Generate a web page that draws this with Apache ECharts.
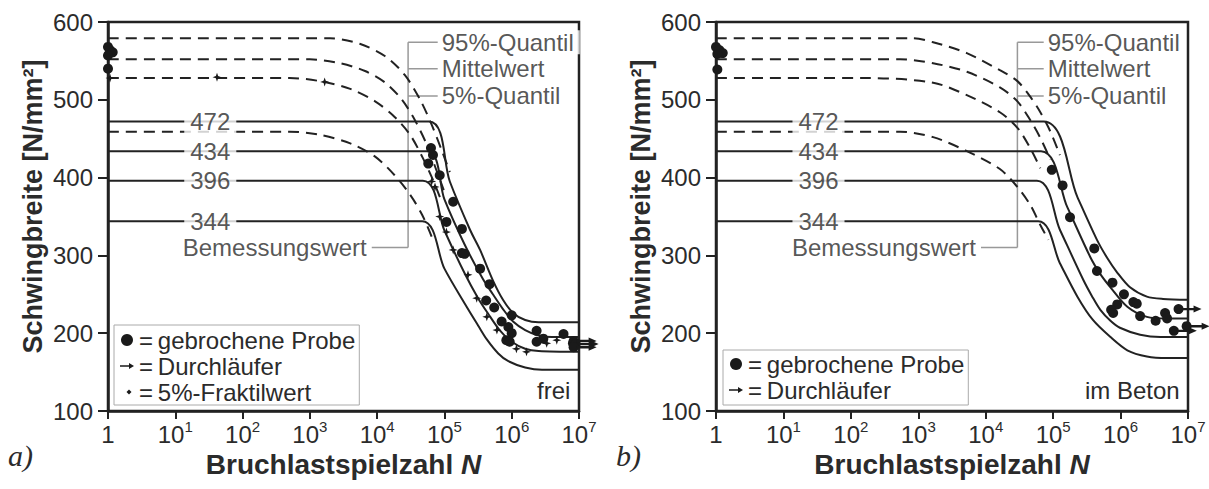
<!DOCTYPE html>
<html>
<head>
<meta charset="utf-8">
<script src="https://cdn.jsdelivr.net/npm/echarts@6/dist/echarts.min.js"></script>
<style>
html, body { margin: 0; background: #fff; }
#chart { width: 1209px; height: 489px; }
</style>
</head>
<body>
<div id="chart"></div>
<script>
// x = log10(N): 0 -> 1, 7 -> 10^7 ; y = Schwingbreite in N/mm²
var xTicks = [0, 1, 2, 3, 4, 5, 6, 7];
var yTicks = [100, 200, 300, 400, 500, 600];
var levels = [472, 434, 396, 344];
var levelX = 1.52;
var quantilNames = ['95%-Quantil', 'Mittelwert', '5%-Quantil'];
var quantilY = [574, 540, 505];
var designY = 310;

// a) frei
var aDash95 = [[0,579],[3.3,579],[3.74,572],[4.12,556],[4.41,532],[4.64,500],[4.81,468],[4.96,435],[5.08,407]];
var aDashMean = [[0,552],[3.0,552],[3.45,547],[3.82,537],[4.12,522],[4.37,500],[4.56,474],[4.74,442],[4.87,412],[4.99,384]];
var aDash5 = [[0,528],[2.7,528],[3.15,524],[3.6,514],[3.97,498],[4.26,478],[4.49,455],[4.68,425],[4.83,397],[4.95,371]];
var aDashDesign = [[0,459],[2.7,459],[3.15,455],[3.6,444],[3.97,427],[4.26,403],[4.49,378],[4.67,352],[4.81,324]];
var aSolid472 = [[0,472],[4.77,472],[5.08,395],[5.38,333],[5.53,307],[5.72,268],[5.87,243],[6.02,226],[6.2,217],[6.4,214],[7,214]];
var aSolid434 = [[0,434],[4.74,434],[5.0,372],[5.3,314],[5.57,270],[5.72,250],[5.87,231],[6.02,215],[6.2,204],[6.4,197],[6.6,195],[7,195]];
var aSolid396 = [[0,396],[4.68,396],[5.0,332],[5.3,277],[5.5,245],[5.65,225],[5.82,204],[6.0,189],[6.2,180],[6.4,177],[7,176]];
var aSolid344 = [[0,344],[4.67,344],[5.0,283],[5.33,234],[5.5,210],[5.63,192],[5.8,174],[5.95,164],[6.2,156],[6.45,153],[7,153]];
var aBroken = [[0,568],[0.03,564],[0.07,561],[0,557],[0,540],
  [4.80,438],[4.83,429],[4.76,418],[4.93,403],[5.13,369],[5.03,343],[5.26,334],[5.26,303],[5.30,302],
  [5.53,283],[5.67,263],[5.62,242],[5.74,233],[5.85,215],[5.95,208],[6.00,200],[5.92,191],[6.00,223],
  [5.97,189],[6.37,203],[6.47,193],[6.37,189],[6.77,199],[6.91,187]];
var aFraktil = [[0.03,528],[1.62,529],[3.22,523],[4.81,395],[4.86,388],[4.93,350],[5.03,330],[5.13,307],
  [5.35,275],[5.48,245],[5.63,221],[5.78,204],[6.07,180],[6.22,176],[6.52,187],[6.67,191]];
var aRunout = [[6.92,190],[6.95,186],[6.92,182]];

// b) im Beton
var bDash95 = [[0,579],[2.92,579],[3.22,574],[3.72,560],[4.21,538],[4.47,524],[4.66,504],[4.81,484],[4.96,459],[5.10,429]];
var bDashMean = [[0,552],[2.73,552],[3.22,547],[3.72,536],[4.21,516],[4.47,498],[4.66,474],[4.81,451],[4.96,423]];
var bDash5 = [[0,528],[2.24,528],[3.22,522],[3.72,506],[4.21,484],[4.47,464],[4.66,438],[4.81,412]];
var bDashDesign = [[0,459],[2.73,459],[3.22,452],[3.72,434],[4.21,411],[4.47,388],[4.66,365],[4.81,339],[4.93,320]];
var bSolid472 = [[0,472],[4.86,472],[5.36,375],[5.65,320],[5.8,297],[5.95,278],[6.14,259],[6.39,247],[6.63,244],[7,243]];
var bSolid434 = [[0,434],[4.82,434],[5.21,362],[5.55,298],[5.7,276],[5.85,259],[6.1,234],[6.39,221],[6.69,219],[7,219]];
var bSolid396 = [[0,396],[4.76,396],[5.10,333],[5.45,268],[5.58,247],[5.70,230],[5.85,216],[5.99,207],[6.29,198],[6.59,195],[7,195]];
var bSolid344 = [[0,344],[4.78,344],[5.10,290],[5.36,247],[5.59,217],[5.85,195],[6.10,178],[6.39,170],[6.69,168],[7,168]];
var bBroken = [[0,568],[0.05,564],[0.1,560],[0.02,559],[0.02,539],
  [4.98,410],[5.14,390],[5.25,349],[5.61,309],[5.65,280],[5.88,265],[6.05,250],[6.19,240],[6.24,238],
  [5.95,237],[5.86,230],[5.89,226],[6.29,222],[6.52,216],[6.66,226],[6.69,219]];
var bRunout = [[6.86,231],[6.98,209],[6.79,203]];

// leader lines: [vertical x, right end x, left end x]
var aLeader = [4.46, 4.90, 3.92];
var bLeader = [4.47, 4.86, 3.93];

var ink = '#222';
var dotInk = '#1a1a1a';
var textInk = '#2b2b2b';
var font = 'Liberation Sans';
var arrowSymbol = 'path://M0,2.3L12,2.3L12,0L20,3.5L12,7L12,4.7L0,4.7Z';
var starSymbol = 'path://M4,0L5,3L8,4L5,5L4,8L3,5L0,4L3,3Z';

// repeat the knee point so the smoothing keeps the corner sharp
function corner(d) {
  return [d[0], d[1]].concat(d.slice(1));
}

function curve(data, idx, dashed) {
  return {
    type: 'line', xAxisIndex: idx, yAxisIndex: idx, silent: true,
    data: dashed ? data : corner(data),
    smooth: 0.3, symbol: 'none', z: 2,
    lineStyle: { color: ink, width: 2, type: dashed ? [11, 7] : 'solid' }
  };
}

function leaderLines(idx, ld) {
  var segs = [[[ld[0], designY], [ld[0], quantilY[0]]], [[ld[2], designY], [ld[0], designY]]];
  quantilY.forEach(function (y) { segs.push([[ld[0], y], [ld[1], y]]); });
  return segs.map(function (s) {
    return {
      type: 'line', xAxisIndex: idx, yAxisIndex: idx, silent: true, data: s,
      symbol: 'none', z: 1, lineStyle: { color: '#999', width: 1.5 }
    };
  });
}

function annotations(idx, ld) {
  var lbl = { show: true, fontSize: 24, fontFamily: font, color: textInk, backgroundColor: '#fff' };
  return [
    {
      type: 'scatter', xAxisIndex: idx, yAxisIndex: idx, silent: true, symbolSize: 0, z: 5,
      data: levels.map(function (v) { return [levelX, v]; }),
      label: Object.assign({}, lbl, { position: 'inside', padding: [1, 6],
        formatter: function (p) { return p.value[1]; } })
    },
    {
      type: 'scatter', xAxisIndex: idx, yAxisIndex: idx, silent: true, symbolSize: 0, z: 5,
      data: quantilNames.map(function (n, i) { return { name: n, value: [ld[1], quantilY[i]] }; }),
      label: Object.assign({}, lbl, { position: 'right', distance: 2, padding: [0, 6, 0, 2],
        formatter: function (p) { return p.name; } })
    },
    {
      type: 'scatter', xAxisIndex: idx, yAxisIndex: idx, silent: true, symbolSize: 0, z: 5,
      data: [{ name: 'Bemessungswert', value: [ld[2], designY] }],
      label: Object.assign({}, lbl, { position: 'left', distance: 3, padding: [0, 2],
        formatter: function (p) { return p.name; } })
    }
  ];
}

function points(idx, broken, runout, fraktil) {
  var s = [
    {
      name: 'gebrochene Probe', type: 'scatter', xAxisIndex: idx, yAxisIndex: idx, silent: true,
      data: broken, symbol: 'circle', symbolSize: 10, z: 4, itemStyle: { color: dotInk, opacity: 1 }
    },
    {
      // run-out specimen: the dot ...
      name: 'Durchläufer', type: 'scatter', xAxisIndex: idx, yAxisIndex: idx, silent: true,
      data: runout, symbol: 'circle', symbolSize: 10, z: 6, clip: false,
      itemStyle: { color: dotInk, opacity: 1 }
    },
    {
      // ... and its arrow pointing to higher N
      name: 'Durchläufer', type: 'scatter', xAxisIndex: idx, yAxisIndex: idx, silent: true,
      data: runout, symbol: arrowSymbol, symbolSize: [20, 7], symbolOffset: [13, 0],
      z: 6, clip: false, itemStyle: { color: dotInk, opacity: 1 }
    }
  ];
  if (fraktil) {
    s.push({
      name: '5%-Fraktilwert', type: 'scatter', xAxisIndex: idx, yAxisIndex: idx, silent: true,
      data: fraktil, symbol: starSymbol, symbolSize: 9, z: 4, itemStyle: { color: dotInk, opacity: 1 }
    });
  }
  return s;
}

function xAxisFor(idx) {
  return {
    type: 'value', gridIndex: idx, min: 0, max: 7, interval: 1,
    name: 'Bruchlastspielzahl {i|N}', nameLocation: 'middle', nameGap: 37,
    nameTextStyle: {
      fontSize: 28, fontWeight: 'bold', fontFamily: font, color: textInk,
      rich: { i: { fontSize: 28, fontWeight: 'bold', fontStyle: 'italic', fontFamily: font, color: textInk } }
    },
    axisLine: { lineStyle: { color: ink, width: 2.5 } },
    axisTick: { show: true, inside: false, length: 8, lineStyle: { color: ink, width: 2 } },
    splitLine: { show: false },
    axisLabel: {
      margin: 8, color: textInk,
      formatter: function (v) { return v === 0 ? '{b|1}' : '{b|10}{s|' + v + '}'; },
      rich: {
        b: { fontSize: 24, fontFamily: font, color: textInk, lineHeight: 30 },
        s: { fontSize: 15, fontFamily: font, color: textInk, verticalAlign: 'top', lineHeight: 16 }
      }
    }
  };
}

function yAxisFor(idx) {
  return {
    type: 'value', gridIndex: idx, min: 100, max: 600, interval: 100,
    name: 'Schwingbreite [N/mm²]', nameLocation: 'middle', nameGap: 62,
    nameTextStyle: { fontSize: 27, fontWeight: 'bold', fontFamily: font, color: textInk, padding: [0, 0, 0, 20] },
    axisLine: { show: true, lineStyle: { color: ink, width: 2.5 } },
    axisTick: { show: true, inside: false, length: 10, lineStyle: { color: ink, width: 2 } },
    splitLine: { show: false },
    axisLabel: { margin: 15, fontSize: 24, fontFamily: font, color: textInk }
  };
}

function legendFor(left, top, names, pad) {
  var icons = {
    'gebrochene Probe': 'circle',
    'Durchläufer': 'path://M0,0M14,12M0,5.3L9,5.3L9,3L14,6L9,9L9,6.7L0,6.7Z',
    '5%-Fraktilwert': 'path://M0,0M14,12M9,3.5L11.5,6L9,8.5L6.5,6Z'
  };
  return {
    left: left, top: top, orient: 'vertical', selectedMode: false,
    backgroundColor: '#fff', borderColor: '#aaa', borderWidth: 1, padding: pad,
    itemWidth: 14, itemHeight: 12, itemGap: 2,
    textStyle: { fontSize: 24, lineHeight: 24, fontFamily: font, color: textInk },
    formatter: function (n) { return '=\u2009' + n; },
    data: names.map(function (n) { return { name: n, icon: icons[n], itemStyle: { color: dotInk, opacity: 1 } }; })
  };
}

var series = []
  .concat([aDash95, aDashMean, aDash5, aDashDesign].map(function (d) { return curve(d, 0, true); }))
  .concat([aSolid472, aSolid434, aSolid396, aSolid344].map(function (d) { return curve(d, 0, false); }))
  .concat([bDash95, bDashMean, bDash5, bDashDesign].map(function (d) { return curve(d, 1, true); }))
  .concat([bSolid472, bSolid434, bSolid396, bSolid344].map(function (d) { return curve(d, 1, false); }))
  .concat(leaderLines(0, aLeader), leaderLines(1, bLeader))
  .concat(annotations(0, aLeader), annotations(1, bLeader))
  .concat(points(0, aBroken, aRunout, aFraktil), points(1, bBroken, bRunout, null));

var chart = echarts.init(document.getElementById('chart'), null, { renderer: 'svg' });

chart.setOption({
  backgroundColor: '#fff',
  animation: false,
  grid: [
    { left: 108, top: 22, width: 471, height: 389, show: true, borderColor: ink, borderWidth: 2.5, backgroundColor: 'transparent' },
    { left: 716, top: 22, width: 472, height: 389, show: true, borderColor: ink, borderWidth: 2.5, backgroundColor: 'transparent' }
  ],
  xAxis: [xAxisFor(0), xAxisFor(1)],
  yAxis: [yAxisFor(0), yAxisFor(1)],
  legend: [
    legendFor(114, 325, ['gebrochene Probe', 'Durchläufer', '5%-Fraktilwert'], [3, 4, 1, 6]),
    legendFor(723, 350, ['gebrochene Probe', 'Durchläufer'], [2, 4, 3, 6])
  ],
  graphic: [
    { type: 'text', left: 8, top: 440, style: { text: 'a)', font: 'italic 30px "Liberation Serif"', fill: textInk } },
    { type: 'text', left: 616, top: 440, style: { text: 'b)', font: 'italic 30px "Liberation Serif"', fill: textInk } },
    { type: 'text', left: 537, top: 378, style: { text: 'frei', font: '24px "Liberation Sans"', fill: textInk } },
    { type: 'text', left: 1085, top: 378, style: { text: 'im Beton', font: '24px "Liberation Sans"', fill: textInk } }
  ],
  series: series
});
</script>
</body>
</html>
